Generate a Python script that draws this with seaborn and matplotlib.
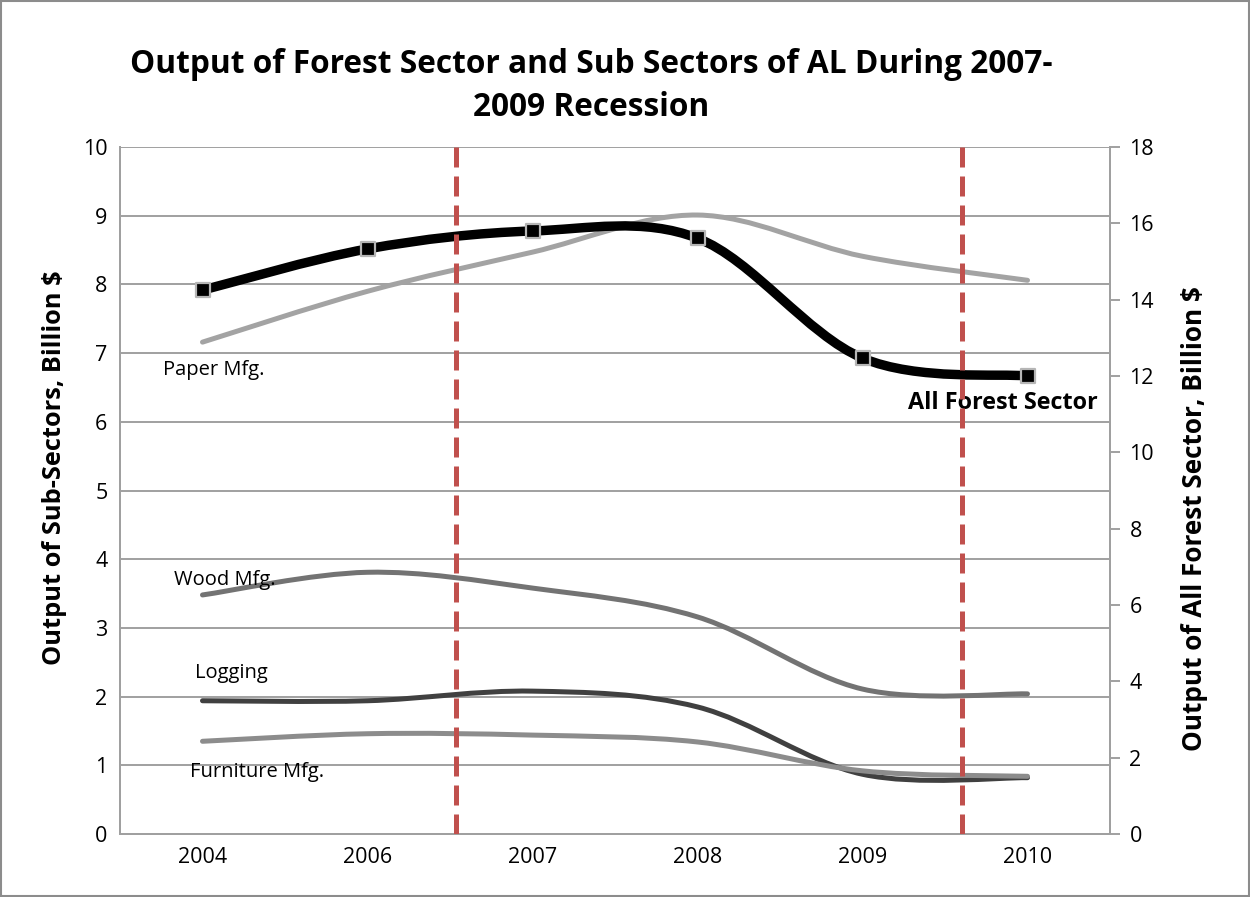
import numpy as np
import matplotlib
matplotlib.use('Agg')
import matplotlib.pyplot as plt
from matplotlib.path import Path
from matplotlib.patches import PathPatch, Rectangle
import seaborn as sns
import pandas as pd

# Data
years = ['2004', '2006', '2007', '2008', '2009', '2010']
paper_mfg = [7.16, 7.90, 8.47, 9.01, 8.41, 8.06]
wood_mfg = [3.48, 3.81, 3.58, 3.16, 2.11, 2.04]
logging = [1.94, 1.94, 2.08, 1.85, 0.87, 0.82]
furniture_mfg = [1.35, 1.46, 1.44, 1.34, 0.92, 0.84]
all_forest = [14.25, 15.33, 15.80, 15.61, 12.47, 12.00]  # right axis
recession_marks = [1.536, 4.603]  # category-axis positions of the dashed lines

sns.set_theme(style='white')
plt.rcParams['font.family'] = ['Open Sans', 'DejaVu Sans']
plt.rcParams['text.color'] = 'black'


def smooth_path(xs, ys):
    # Excel-style smoothed line: cubic bezier with catmull-rom control points
    p = np.column_stack([xs, ys]).astype(float)
    ext = np.vstack([p[0], p, p[-1]])
    verts = [p[0]]
    codes = [Path.MOVETO]
    for i in range(len(p) - 1):
        p0, p1, p2, p3 = ext[i], ext[i + 1], ext[i + 2], ext[i + 3]
        verts += [p1 + (p2 - p0) / 6, p2 - (p3 - p1) / 6, p2]
        codes += [Path.CURVE4] * 3
    return Path(verts, codes)


fig = plt.figure(figsize=(12.5, 8.97), dpi=100)
ax = fig.add_axes([0.096, 0.0702, 0.792, 0.7659])
ax2 = ax.twinx()

x = np.arange(len(years))
sub = [(paper_mfg, '#a3a3a3'), (wood_mfg, '#737373'),
       (logging, '#404040'), (furniture_mfg, '#8c8c8c')]
for vals, col in sub:
    ax.add_patch(PathPatch(smooth_path(x, vals), fill=False, edgecolor=col,
                           lw=3.6, capstyle='round', zorder=3))

ax2.add_patch(PathPatch(smooth_path(x, all_forest), fill=False, edgecolor='black',
                        lw=6.8, capstyle='round', zorder=3))
df = pd.DataFrame({'year': x, 'val': all_forest})
sns.scatterplot(data=df, x='year', y='val', ax=ax2, marker='s', s=95,
                color='black', edgecolor='#b5b5b5', linewidth=1.6, zorder=4)

for xv in recession_marks:
    ax2.axvline(xv, color='#c0504d', lw=3.6, dashes=(4, 1.8), zorder=6)

ax.set_xlim(-0.5, 5.5)
ax.set_ylim(0, 10)
ax.set_yticks(range(0, 11))
ax2.set_ylim(0, 18)
ax2.set_yticks(range(0, 19, 2))
ax.set_xticks(x)
ax.set_xticklabels(years)

ax.grid(axis='y', color='#a0a0a0', lw=1.4)
ax.grid(axis='x', visible=False)
ax.set_axisbelow(True)
for a in (ax, ax2):
    a.spines['top'].set_visible(False)
    for s in ('left', 'right', 'bottom'):
        a.spines[s].set_color('#a0a0a0')
        a.spines[s].set_linewidth(1.4)
ax.tick_params(axis='both', length=0, labelsize=15.5, pad=9, colors='black')
ax2.tick_params(axis='y', length=7, width=1.4, color='#a0a0a0', direction='out',
                labelsize=15.5, pad=7, labelcolor='black')
ax2.set_xlabel('')
ax2.set_ylabel('')

fig.text(0.044, 1 - 468 / 897, 'Output of Sub-Sectors, Billion $', rotation=90,
         ha='center', va='center', fontsize=18.3, fontweight='bold', color='black')
fig.text(0.956, 1 - 519 / 897, 'Output of All Forest Sector, Billion $', rotation=90,
         ha='center', va='center', fontsize=18.8, fontweight='bold', color='black')

fig.text(0.473, 1 - 86 / 897, 'Output of Forest Sector and Sub Sectors of AL During 2007-\n2009 Recession',
         ha='center', va='center', fontsize=22.8, fontweight='bold', linespacing=1.42,
         color='black')

ax.text(-0.24, 6.75, 'Paper Mfg.', fontsize=14.5, va='center', color='black', zorder=5)
ax.text(-0.17, 3.70, 'Wood Mfg.', fontsize=14.5, va='center', color='black', zorder=5)
ax.text(-0.045, 2.34, 'Logging', fontsize=14.5, va='center', color='black', zorder=5)
ax.text(-0.076, 0.90, 'Furniture Mfg.', fontsize=14.5, va='center', color='black', zorder=5)
ax2.text(5.427, 6.27 * 1.8, 'All Forest Sector', fontsize=16.8, fontweight='bold',
         ha='right', va='center', color='black', zorder=5)

fig.patches.append(Rectangle((0.001, 0.001), 0.998, 0.998, transform=fig.transFigure,
                             fill=False, edgecolor='#8c8c8c', lw=1.5))

fig.savefig('out.png', dpi=100)
